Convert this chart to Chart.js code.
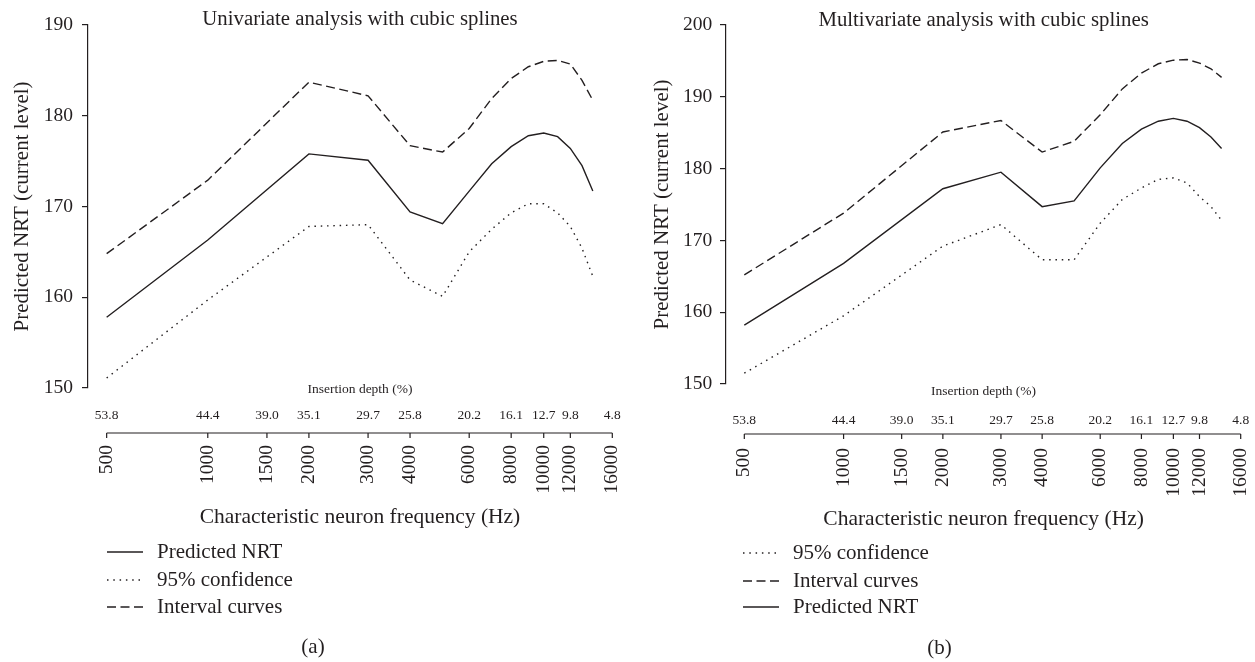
<!DOCTYPE html>
<html>
<head>
<meta charset="utf-8">
<script src="https://cdn.jsdelivr.net/npm/chart.js@4.4.0/dist/chart.umd.min.js"></script>
<style>
  html, body { margin: 0; padding: 0; background: #fff; }
  #wrap { position: relative; width: 1255px; height: 662px; }
  .panel { position: absolute; top: 0; height: 662px; }
  #panelA { left: 0; width: 627px; }
  #panelB { left: 627px; width: 628px; }
  canvas { display: block; }
</style>
</head>
<body>
<div id="wrap">
  <div class="panel" id="panelA"><canvas id="chartA" width="627" height="662"></canvas></div>
  <div class="panel" id="panelB"><canvas id="chartB" width="628" height="662"></canvas></div>
</div>
<script>
// frequencies (Hz) at which the spline curves were read
const freqs = [500, 1000, 2000, 3000, 4000, 5000, 6000, 7000, 8000, 9000, 10000, 11000, 12000, 13000, 14000];

// (a) univariate
const uniPredicted = [157.8, 166.3, 175.8, 175.1, 169.4, 168.1, 171.7, 174.7, 176.6, 177.8, 178.1, 177.7, 176.4, 174.5, 171.7];
const uniLower     = [151.1, 159.7, 167.8, 168.0, 161.9, 160.1, 165.0, 167.5, 169.3, 170.3, 170.3, 169.3, 167.8, 165.4, 162.3];
const uniUpper     = [164.8, 172.9, 183.7, 182.2, 176.7, 176.0, 178.6, 181.9, 184.1, 185.4, 186.0, 186.1, 185.7, 183.9, 181.7];

// (b) multivariate
const multiPredicted = [158.2, 166.8, 177.2, 179.5, 174.7, 175.5, 180.1, 183.5, 185.5, 186.6, 187.0, 186.6, 185.7, 184.4, 182.8];
const multiLower     = [151.5, 159.5, 169.2, 172.2, 167.3, 167.3, 172.4, 175.7, 177.3, 178.5, 178.7, 178.0, 176.1, 174.7, 172.8];
const multiUpper     = [165.2, 173.8, 185.1, 186.7, 182.3, 183.8, 187.5, 191.1, 193.3, 194.6, 195.1, 195.2, 194.7, 193.9, 192.7];

// axis ticks
const freqTicks   = [500, 1000, 1500, 2000, 3000, 4000, 6000, 8000, 10000, 12000, 16000];
const depthLabels = ['53.8', '44.4', '39.0', '35.1', '29.7', '25.8', '20.2', '16.1', '12.7', '9.8', '4.8'];

const serif = '"Liberation Serif", "Times New Roman", serif';
const ink = '#231f20';

const styles = {
    'Predicted NRT':   { dash: [] },
    '95% confidence':  { dash: [1.5, 4.8] },
    'Interval curves': { dash: [9, 4.5] }
};

function makeSet(label, values) {
    return {
        label: label,
        data: freqs.map((f, i) => ({ x: f, y: values[i] })),
        borderColor: ink,
        borderWidth: 1.4,
        borderDash: styles[label].dash,
        pointRadius: 0,
        tension: 0,
        fill: false
    };
}

// draws the frequency axis, the insertion depth labels, titles and the legend
const panelDecor = {
    id: 'panelDecor',
    afterDraw(chart, args, o) {
        const ctx = chart.ctx;
        const xs = chart.scales.x;
        ctx.save();
        ctx.fillStyle = ink;
        ctx.strokeStyle = ink;
        ctx.textAlign = 'center';
        ctx.textBaseline = 'middle';

        ctx.font = `20.8px ${serif}`;
        ctx.fillText(o.title, o.centerX, o.titleY);

        ctx.font = `13.5px ${serif}`;
        ctx.fillText('Insertion depth (%)', o.centerX, o.depthTitleY);

        // axis line + ticks
        const p0 = xs.getPixelForValue(freqTicks[0]);
        const p1 = xs.getPixelForValue(freqTicks[freqTicks.length - 1]);
        ctx.lineWidth = 1.2;
        ctx.beginPath();
        ctx.moveTo(p0, o.axisY);
        ctx.lineTo(p1, o.axisY);
        freqTicks.forEach(f => {
            const p = xs.getPixelForValue(f);
            ctx.moveTo(p, o.axisY);
            ctx.lineTo(p, o.axisY + 5);
        });
        ctx.stroke();

        ctx.font = `13.5px ${serif}`;
        freqTicks.forEach((f, i) => ctx.fillText(depthLabels[i], xs.getPixelForValue(f), o.depthY));

        // rotated frequency labels
        ctx.font = `19.5px ${serif}`;
        ctx.textAlign = 'right';
        freqTicks.forEach(f => {
            ctx.save();
            ctx.translate(xs.getPixelForValue(f), o.freqTop);
            ctx.rotate(-Math.PI / 2);
            ctx.fillText(String(f), 0, 0);
            ctx.restore();
        });

        ctx.textAlign = 'center';
        ctx.font = `21.5px ${serif}`;
        ctx.fillText('Characteristic neuron frequency (Hz)', o.centerX, o.xTitleY);

        // legend
        ctx.textAlign = 'left';
        ctx.font = `21px ${serif}`;
        o.legend.forEach((idx, row) => {
            const ds = chart.data.datasets[idx];
            const y = o.legendY[row];
            ctx.setLineDash(ds.borderDash);
            ctx.lineWidth = 1.3;
            ctx.beginPath();
            ctx.moveTo(o.legendX, y);
            ctx.lineTo(o.legendX + 36, y);
            ctx.stroke();
            ctx.setLineDash([]);
            ctx.fillText(ds.label, o.legendX + 50, y);
        });

        ctx.textAlign = 'center';
        ctx.fillText(o.caption, o.captionX, o.captionY);
        ctx.restore();
    }
};

function yAxis(max, width, titlePad, tickPad) {
    return {
        min: 150,
        max: max,
        ticks: { stepSize: 10, color: ink, padding: tickPad, font: { family: serif, size: 19.5 } },
        grid: { drawOnChartArea: false, drawTicks: true, tickLength: 6, color: ink, lineWidth: 1.2 },
        border: { display: true, color: ink, width: 1.2 },
        title: {
            display: true,
            text: 'Predicted NRT (current level)',
            color: ink,
            font: { family: serif, size: 21 },
            padding: { top: titlePad, bottom: 0 }
        },
        afterFit(scale) { scale.width = width; }
    };
}

// (a)
new Chart(document.getElementById('chartA'), {
    type: 'line',
    data: {
        datasets: [
            makeSet('Predicted NRT', uniPredicted),
            makeSet('95% confidence', uniLower),
            makeSet('Interval curves', uniUpper)
        ]
    },
    options: {
        responsive: false,
        animation: false,
        layout: { padding: { left: 0, right: 14.7, top: 25, bottom: 274 } },
        scales: {
            x: { type: 'logarithmic', min: 440, max: 16000, display: false },
            y: yAxis(190, 88, 10, 9)
        },
        plugins: {
            legend: { display: false },
            tooltip: { enabled: false },
            panelDecor: {
                title: 'Univariate analysis with cubic splines',
                centerX: 360, titleY: 19.5,
                depthTitleY: 389.5, depthY: 415, axisY: 433, freqTop: 445, xTitleY: 517.5,
                legend: [0, 1, 2], legendX: 107, legendY: [552, 580, 607],
                caption: '(a)', captionX: 313, captionY: 647
            }
        }
    },
    plugins: [panelDecor]
});

// (b)
new Chart(document.getElementById('chartB'), {
    type: 'line',
    data: {
        datasets: [
            makeSet('Predicted NRT', multiPredicted),
            makeSet('95% confidence', multiLower),
            makeSet('Interval curves', multiUpper)
        ]
    },
    options: {
        responsive: false,
        animation: false,
        layout: { padding: { left: 0, right: 14.3, top: 25, bottom: 278 } },
        scales: {
            x: { type: 'logarithmic', min: 440, max: 16000, display: false },
            y: yAxis(200, 99, 22.7, 7.7)
        },
        plugins: {
            legend: { display: false },
            tooltip: { enabled: false },
            panelDecor: {
                title: 'Multivariate analysis with cubic splines',
                centerX: 356.6, titleY: 20.3,
                depthTitleY: 391.5, depthY: 420.5, axisY: 434, freqTop: 448, xTitleY: 519,
                legend: [1, 2, 0], legendX: 116, legendY: [553, 581, 607],
                caption: '(b)', captionX: 312.4, captionY: 648
            }
        }
    },
    plugins: [panelDecor]
});
</script>
</body>
</html>
